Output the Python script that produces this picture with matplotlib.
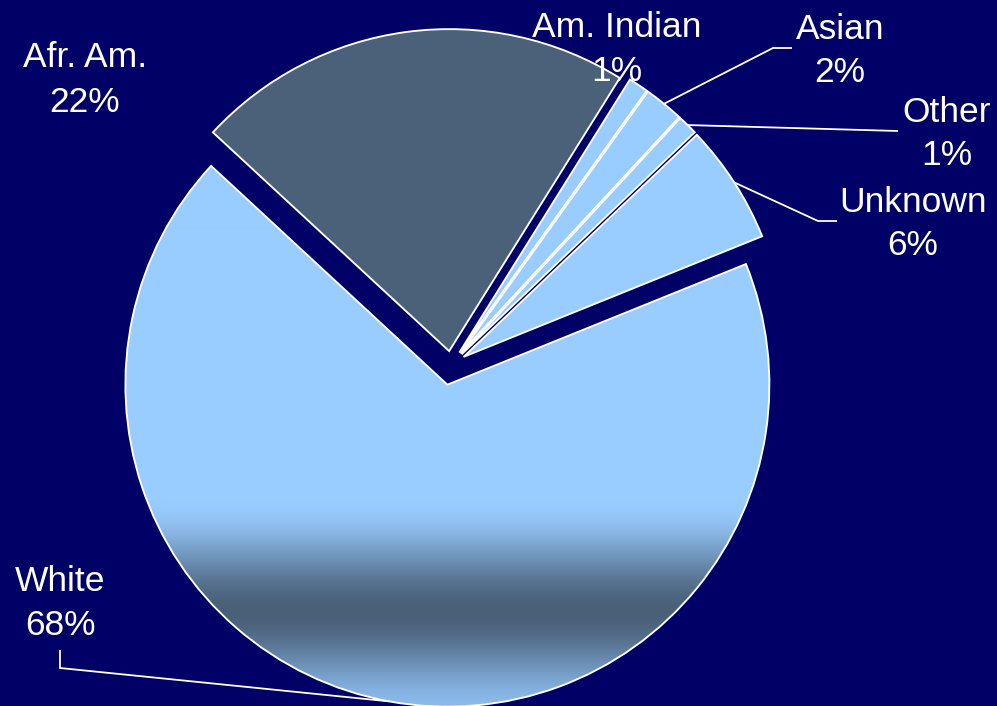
import numpy as np
import matplotlib
matplotlib.use("Agg")
import matplotlib.pyplot as plt

# Population shares by group (percent)
groups = ["Afr. Am.", "Am. Indian", "Asian", "Other", "Unknown", "White"]
shares = [22, 1, 2, 1, 6, 68]

# ---- canvas -------------------------------------------------------------
W, H = 997, 706
BG = "#000066"
LIGHT = "#99ccff"
SLATE = "#4b6179"

plt.rcParams["font.family"] = ["Liberation Sans", "DejaVu Sans"]

fig = plt.figure(figsize=(W / 100, H / 100), dpi=100, facecolor=BG)
ax = fig.add_axes([0, 0, 1, 1])
ax.set_facecolor(BG)


def img_y(y):
    """Convert a top-down pixel row to the axes' bottom-up y."""
    return H - y


# ---- pie ----------------------------------------------------------------
center = (451, img_y(365))
radius = 322
explode = [14, 15, 15, 15, 15, 20]
colors = [SLATE, LIGHT, LIGHT, LIGHT, LIGHT, LIGHT]

wedges, _ = ax.pie(
    shares, explode=explode, colors=colors, startangle=137.2,
    counterclock=False, radius=radius, center=center, frame=True,
    wedgeprops=dict(edgecolor="white", linewidth=1.35),
)

# shaded band across the lower part of the largest slice
big = wedges[groups.index("White")]
big.set_facecolor("none")
big.set_zorder(3)


def smooth_ramp(y, stops_y, stops_c):
    """Piecewise colour ramp with eased transitions between stops."""
    out = np.empty((len(y), 3))
    for i, yy in enumerate(y):
        j = np.searchsorted(stops_y, yy, side="right") - 1
        j = min(max(j, 0), len(stops_y) - 2)
        t = (yy - stops_y[j]) / (stops_y[j + 1] - stops_y[j])
        t = min(max(t, 0.0), 1.0)
        t = t * t * (3 - 2 * t)
        out[i] = stops_c[j] * (1 - t) + stops_c[j + 1] * t
    return out


rows = np.arange(H) + 0.5
stops_y = [0, 500, 612, 712]
stops_c = np.array([[153, 204, 255], [153, 204, 255],
                    [74, 96, 121], [140, 188, 238]]) / 255.0
grad = smooth_ramp(rows, stops_y, stops_c)
grad = np.repeat(grad[:, None, :], W, axis=1)
im = ax.imshow(grad, extent=(0, W, 0, H), origin="upper", aspect="auto",
               interpolation="nearest", zorder=2)
im.set_clip_path(big)

# ---- labels -------------------------------------------------------------
label_layout = {
    "Afr. Am.":   dict(x=85,  y1=67,  y2=112),
    "Am. Indian": dict(x=617, y1=37,  y2=81),
    "Asian":      dict(x=840, y1=39,  y2=82),
    "Other":      dict(x=947, y1=122, y2=165),
    "Unknown":    dict(x=913, y1=212, y2=255),
    "White":      dict(x=60,  y1=591, y2=635),
}
leader_path = {
    "Asian":   [(773, 48), (792, 48)],
    "Other":   [(898, 131)],
    "Unknown": [(818, 221), (837, 221)],
    "White":   [(60, 668), (60, 650)],
}

FS = 25.5
for name, share, w in zip(groups, shares, wedges):
    lay = label_layout[name]
    ax.text(lay["x"], img_y(lay["y1"]), name, ha="center", va="baseline",
            color="white", fontsize=FS, zorder=6)
    ax.text(lay["x"], img_y(lay["y2"]), f"{share}%", ha="center", va="baseline",
            color="white", fontsize=FS, zorder=6)
    if name in leader_path:
        mid = np.deg2rad(0.5 * (w.theta1 + w.theta2))
        ax0 = w.center[0] + w.r * np.cos(mid)
        ay0 = w.center[1] + w.r * np.sin(mid)
        xs = [ax0] + [p[0] for p in leader_path[name]]
        ys = [ay0] + [img_y(p[1]) for p in leader_path[name]]
        ax.plot(xs, ys, color="white", lw=1.3, zorder=5,
                solid_joinstyle="miter", solid_capstyle="butt")

ax.set_xlim(0, W)
ax.set_ylim(0, H)
ax.set_aspect("equal")
ax.axis("off")

fig.savefig("out.png", dpi=100, facecolor=BG)
